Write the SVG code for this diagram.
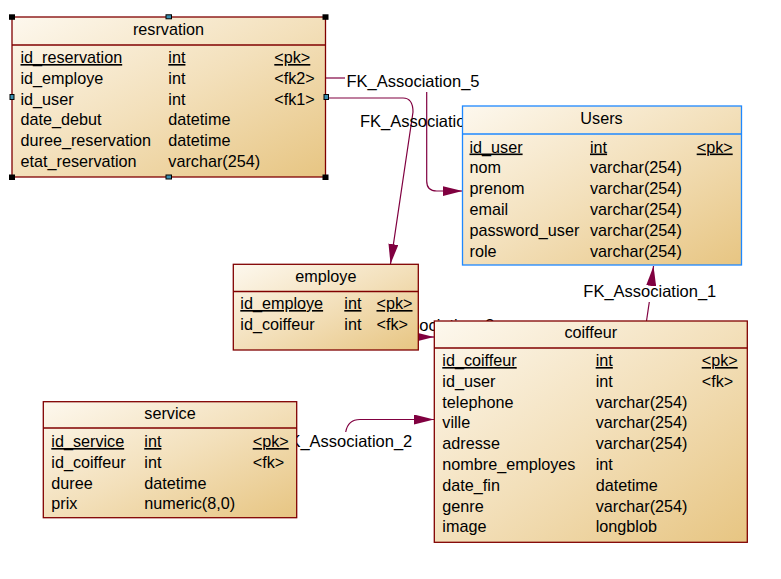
<svg xmlns="http://www.w3.org/2000/svg" width="781" height="579" viewBox="0 0 781 579">
<defs>
<linearGradient id="g" x1="0" y1="0" x2="1" y2="1">
<stop offset="0" stop-color="#fdf8ee"/>
<stop offset="0.5" stop-color="#f3e0bb"/>
<stop offset="1" stop-color="#e7c582"/>
</linearGradient>
<marker id="arr" markerUnits="userSpaceOnUse" viewBox="0 0 20 10" markerWidth="20" markerHeight="10" refX="20" refY="5" orient="auto">
<path d="M0,0 L20,5 L0,10 z" fill="#800040"/>
</marker>
<style>
text{font-family:"Liberation Sans",Arial,sans-serif;font-size:16.2px;fill:#000}
.lbl{font-size:16.5px}
.t{text-anchor:middle}
.pk{text-decoration:underline}
.box{fill:url(#g);stroke:#800000;stroke-width:1.3}
.ub{fill:url(#g);stroke:#1e88ff;stroke-width:1.3}
.sep{stroke:#800000;stroke-width:1.3}
.usep{stroke:#1e88ff;stroke-width:1.3}
.c{fill:none;stroke:#800040;stroke-width:1.2}
.hc{fill:#000}
.hm{fill:#3a8fb0;stroke:#000;stroke-width:1}
</style>
</defs>
<rect width="781" height="579" fill="#fff"/>
<g id="connectors">
<path class="c" d="M326,78 H345"/>
<text class="lbl" x="346.5" y="87">FK_Association_5</text>
<path class="c" d="M426.7,92 V181 Q426.7,191 436.7,191 H462.5" marker-end="url(#arr)"/>
<path class="c" d="M326,98 H403 Q413,98 413,112 L390.5,264" marker-end="url(#arr)"/>
<text class="lbl" x="360" y="127">FK_Association_4</text>
<path class="c" d="M646.5,321 L649.3,302"/>
<path class="c" d="M651.2,286 L653.5,266" marker-end="url(#arr)"/>
<text class="lbl" x="583.3" y="297">FK_Association_1</text>
<path class="c" d="M414,337 H434" marker-end="url(#arr)"/>
<text class="lbl" x="361.5" y="331">FK_Association_3</text>
<path class="c" d="M345.7,432 Q348,419.5 360,419.5 H434" marker-end="url(#arr)"/>
<text class="lbl" x="412.3" y="447" text-anchor="end">FK_Association_2</text>
</g>
<g id="resrvation">
<rect class="box" x="12" y="17" width="313.5" height="160"/>
<line class="sep" x1="12" y1="45" x2="325.5" y2="45"/>
<text class="t" x="168.5" y="35">resrvation</text>
<text class="pk" x="20.5" y="63">id_reservation</text><text class="pk" x="168.3" y="63">int</text><text class="pk" x="274.3" y="63">&lt;pk&gt;</text>
<text x="20.5" y="83.8">id_employe</text><text x="168.3" y="83.8">int</text><text x="274.3" y="83.8">&lt;fk2&gt;</text>
<text x="20.5" y="104.6">id_user</text><text x="168.3" y="104.6">int</text><text x="274.3" y="104.6">&lt;fk1&gt;</text>
<text x="20.5" y="125.4">date_debut</text><text x="168.3" y="125.4">datetime</text>
<text x="20.5" y="146.2">duree_reservation</text><text x="168.3" y="146.2">datetime</text>
<text x="20.5" y="167">etat_reservation</text><text x="168.3" y="167">varchar(254)</text>
<rect class="hc" x="9" y="14.3" width="6" height="5.5"/>
<rect class="hc" x="322.5" y="14.3" width="6" height="5.5"/>
<rect class="hc" x="9" y="174.5" width="6" height="5.5"/>
<rect class="hc" x="322.5" y="174.5" width="6" height="5.5"/>
<rect class="hm" x="166" y="14.8" width="5.5" height="4"/>
<rect class="hm" x="166" y="175" width="5.5" height="4"/>
<rect class="hm" x="10" y="94.5" width="4" height="5"/>
<rect class="hm" x="324" y="94.5" width="4.5" height="5"/>
</g>
<g id="Users">
<rect class="ub" x="462.5" y="106" width="279" height="159"/>
<line class="usep" x1="462.5" y1="134" x2="741.5" y2="134"/>
<text class="t" x="601.5" y="124">Users</text>
<text class="pk" x="469.5" y="152.5">id_user</text><text class="pk" x="590" y="152.5">int</text><text class="pk" x="696.7" y="152.5">&lt;pk&gt;</text>
<text x="469.5" y="173.3">nom</text><text x="590" y="173.3">varchar(254)</text>
<text x="469.5" y="194.1">prenom</text><text x="590" y="194.1">varchar(254)</text>
<text x="469.5" y="214.9">email</text><text x="590" y="214.9">varchar(254)</text>
<text x="469.5" y="235.7">password_user</text><text x="590" y="235.7">varchar(254)</text>
<text x="469.5" y="256.5">role</text><text x="590" y="256.5">varchar(254)</text>
</g>
<g id="employe">
<rect class="box" x="233.3" y="264.3" width="185" height="85.7"/>
<line class="sep" x1="233.3" y1="291.5" x2="418.3" y2="291.5"/>
<text class="t" x="325.8" y="281.5">employe</text>
<text class="pk" x="240.3" y="309">id_employe</text><text class="pk" x="344.3" y="309">int</text><text class="pk" x="376.5" y="309">&lt;pk&gt;</text>
<text x="240.3" y="329.8">id_coiffeur</text><text x="344.3" y="329.8">int</text><text x="376.5" y="329.8">&lt;fk&gt;</text>
</g>
<g id="coiffeur">
<rect class="box" x="434.3" y="321" width="313" height="221.3"/>
<line class="sep" x1="434.3" y1="348" x2="747.3" y2="348"/>
<text class="t" x="590.8" y="338">coiffeur</text>
<text class="pk" x="442.3" y="366">id_coiffeur</text><text class="pk" x="595.7" y="366">int</text><text class="pk" x="701.7" y="366">&lt;pk&gt;</text>
<text x="442.3" y="386.8">id_user</text><text x="595.7" y="386.8">int</text><text x="701.7" y="386.8">&lt;fk&gt;</text>
<text x="442.3" y="407.6">telephone</text><text x="595.7" y="407.6">varchar(254)</text>
<text x="442.3" y="428.4">ville</text><text x="595.7" y="428.4">varchar(254)</text>
<text x="442.3" y="449.2">adresse</text><text x="595.7" y="449.2">varchar(254)</text>
<text x="442.3" y="470">nombre_employes</text><text x="595.7" y="470">int</text>
<text x="442.3" y="490.8">date_fin</text><text x="595.7" y="490.8">datetime</text>
<text x="442.3" y="511.6">genre</text><text x="595.7" y="511.6">varchar(254)</text>
<text x="442.3" y="532.4">image</text><text x="595.7" y="532.4">longblob</text>
</g>
<g id="service">
<rect class="box" x="43.3" y="401.7" width="253.4" height="116"/>
<line class="sep" x1="43.3" y1="428" x2="296.7" y2="428"/>
<text class="t" x="170" y="418.5">service</text>
<text class="pk" x="51.3" y="447">id_service</text><text class="pk" x="144.3" y="447">int</text><text class="pk" x="252.7" y="447">&lt;pk&gt;</text>
<text x="51.3" y="467.8">id_coiffeur</text><text x="144.3" y="467.8">int</text><text x="252.7" y="467.8">&lt;fk&gt;</text>
<text x="51.3" y="488.6">duree</text><text x="144.3" y="488.6">datetime</text>
<text x="51.3" y="509.4">prix</text><text x="144.3" y="509.4">numeric(8,0)</text>
</g>
</svg>
